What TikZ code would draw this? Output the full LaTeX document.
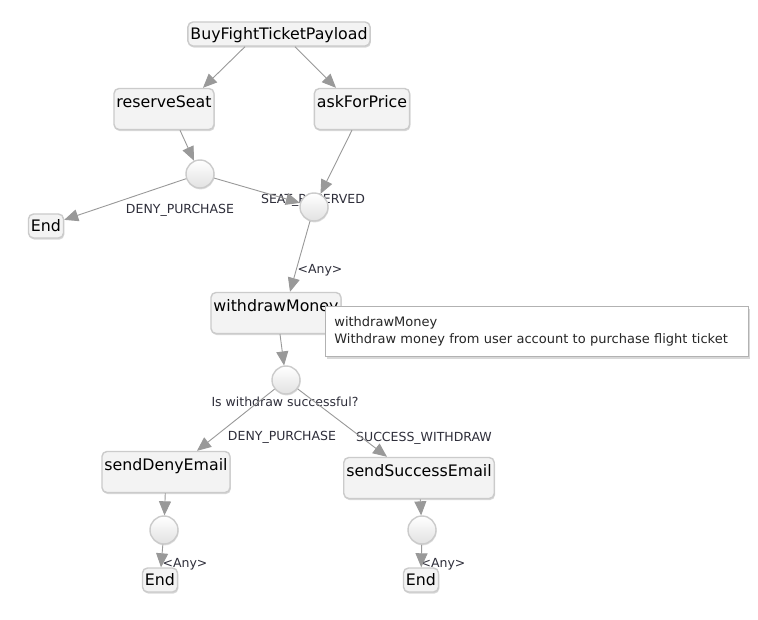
\documentclass[tikz,border=0pt]{standalone}
\usepackage{fontspec}
\setmainfont{DejaVu Sans}
\usepackage{xcolor}
\usetikzlibrary{arrows.meta,shadows}
\definecolor{edgegray}{HTML}{999999}
\definecolor{boxline}{HTML}{CBCBCB}
\definecolor{boxfill}{HTML}{F3F3F3}
\definecolor{labeltext}{HTML}{2E2E3A}

\begin{document}
\begin{tikzpicture}[x=1pt, y=-1pt,
  task/.style={draw=boxline, line width=1.4pt, fill=boxfill, rounded corners=5pt,
    drop shadow={opacity=0.3, shadow xshift=0.8pt, shadow yshift=-1.6pt},
    inner xsep=2.5pt, inner ysep=0pt, text height=19pt, text depth=22pt,
    font=\fontsize{15.8}{18}\selectfont, text=black},
  small/.style={task, text height=17.5pt, text depth=6.5pt},
  gate/.style={circle, draw=boxline, line width=1.4pt, inner sep=0pt, minimum size=28pt,
    top color=white, bottom color=boxfill!85!gray,
    drop shadow={opacity=0.25, shadow xshift=0.6pt, shadow yshift=-1.4pt}},
  flow/.style={draw=edgegray, line width=0.9pt, -{Triangle[length=14pt,width=12pt]}},
  lbl/.style={font=\fontsize{12.5}{14}\selectfont, text=labeltext, inner sep=0pt},
  tip/.style={draw=gray!60, fill=white, line width=0.8pt, inner xsep=9pt, inner ysep=0pt,
    minimum height=50pt, text width=405pt, align=left, text=black!85,
    font=\fontsize{13}{17}\selectfont,
    drop shadow={opacity=0.3, shadow xshift=2pt, shadow yshift=-3pt}}]
\fill[white] (0,0) rectangle (758,620);
\useasboundingbox (0,0) rectangle (758,620);

\node[lbl] (l1) at (180,210) {DENY\_PURCHASE};
\node[lbl] (l2) at (313,200) {SEAT\_RESERVED};
\node[lbl] (l3) at (320,270) {<Any>};
\node[lbl] (l4) at (285,402) {Is withdraw successful?};
\node[lbl] (l5) at (282,437) {DENY\_PURCHASE};
\node[lbl] (l6) at (424,438) {SUCCESS\_WITHDRAW};
\node[lbl] (l7) at (185,564) {<Any>};
\node[lbl] (l8) at (443,564) {<Any>};

\node[small] (buy) at (279,34) {BuyFightTicketPayload};
\node[task] (seat) at (164,109) {reserveSeat};
\node[task] (ask) at (362,109) {askForPrice};
\node[gate] (g1) at (200,174) {};
\node[gate] (g2) at (314,207) {};
\node[small] (endA) at (46,226) {End};
\node[task] (wm) at (276,313) {withdrawMoney};
\node[gate] (g3) at (286,380) {};
\node[task] (deny) at (166,472) {sendDenyEmail};
\node[task] (succ) at (419,478) {sendSuccessEmail};
\node[gate] (g4) at (164,530) {};
\node[gate] (g5) at (422,530) {};
\node[small] (endB) at (160,580) {End};
\node[small] (endC) at (421,580) {End};

\draw[flow] ([xshift=-34pt]buy.south) -- ([xshift=39pt]seat.north);
\draw[flow] ([xshift=16pt]buy.south) -- ([xshift=-26pt]ask.north);
\draw[flow] ([xshift=16pt]seat.south) -- (g1);
\draw[flow] ([xshift=-10pt]ask.south) -- (g2);
\draw[flow] (g1) -- (endA);
\draw[flow] (g1) -- (g2);
\draw[flow] (g2) -- ([xshift=14pt]wm.north);
\draw[flow] ([xshift=4pt]wm.south) -- (g3);
\draw[flow] (g3) -- ([xshift=31pt]deny.north);
\draw[flow] (g3) -- ([xshift=-32pt]succ.north);
\draw[flow] (deny) -- (g4);
\draw[flow] (succ) -- (g5);
\draw[flow] (g4) -- (endB);
\draw[flow] (g5) -- (endC);

\node[tip, anchor=north west] (info) at (325,306) {withdrawMoney\\Withdraw money from user account to purchase flight ticket};
\end{tikzpicture}
\end{document}
